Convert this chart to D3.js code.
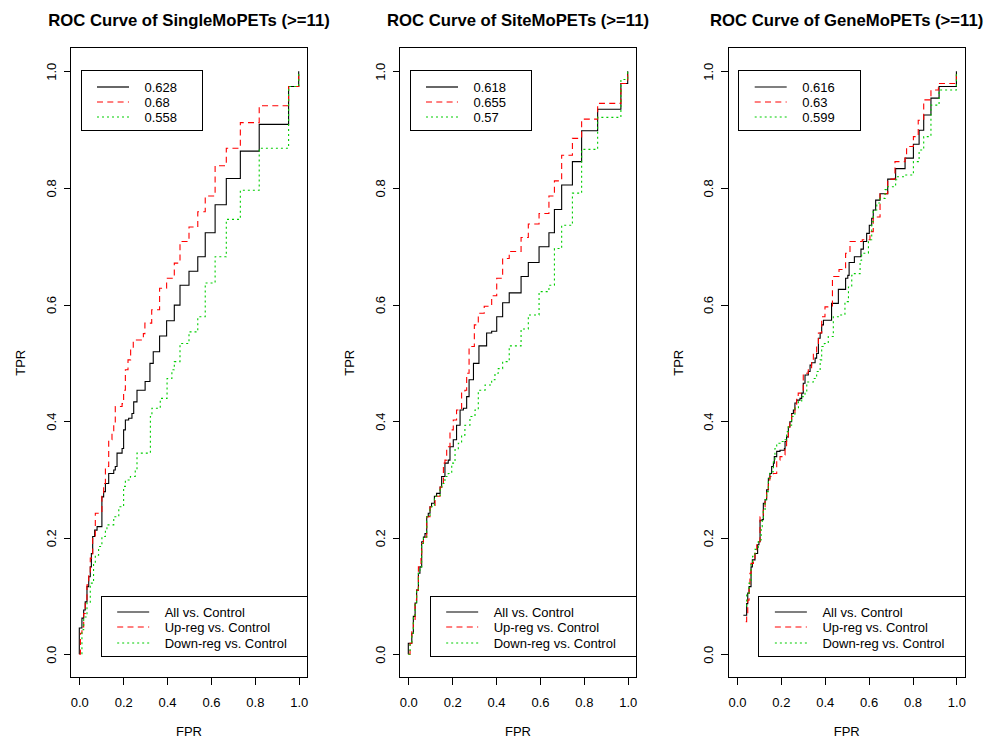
<!DOCTYPE html>
<html>
<head>
<meta charset="utf-8">
<script src="https://cdn.jsdelivr.net/npm/d3@7"></script>
<style>
  html, body { margin: 0; padding: 0; background: #ffffff; }
  svg { display: block; font-family: "Liberation Sans", Arial, Helvetica, sans-serif; }
</style>
</head>
<body>
<svg id="chart" width="991" height="742"></svg>
<script>
// ---- data -------------------------------------------------------------
const panelTitles = [
  "ROC Curve of SingleMoPETs (>=11)",
  "ROC Curve of SiteMoPETs (>=11)",
  "ROC Curve of GeneMoPETs (>=11)"
];
const seriesNames = ["All vs. Control", "Up-reg vs. Control", "Down-reg vs. Control"];
const axisTicks = [0, 0.2, 0.4, 0.6, 0.8, 1.0];
const xLabel = "FPR";
const yLabel = "TPR";

// AUC values shown in the upper legend of each panel
const singleAuc = ["0.628", "0.68", "0.558"];
const siteAuc   = ["0.618", "0.655", "0.57"];
const geneAuc   = ["0.616", "0.63", "0.599"];

// ROC operating points [FPR, TPR]; each point is where the curve reaches a new TPR level
const singleAll = [[0,0],[0,0.045],[0.012,0.062],[0.020,0.076],[0.027,0.090],[0.035,0.116],[0.043,0.133],[0.050,0.150],[0.055,0.173],[0.061,0.202],[0.070,0.213],[0.081,0.219],[0.103,0.270],[0.111,0.279],[0.119,0.293],[0.134,0.310],[0.157,0.316],[0.164,0.322],[0.172,0.345],[0.195,0.353],[0.202,0.385],[0.210,0.402],[0.225,0.405],[0.240,0.413],[0.248,0.433],[0.263,0.453],[0.300,0.468],[0.322,0.499],[0.337,0.519],[0.366,0.546],[0.398,0.572],[0.433,0.599],[0.459,0.633],[0.500,0.657],[0.540,0.682],[0.574,0.723],[0.619,0.771],[0.670,0.816],[0.734,0.863],[0.820,0.909],[0.954,0.974],[1,1]];
const singleUp = [[0,0],[0.005,0.036],[0.012,0.047],[0.020,0.070],[0.027,0.093],[0.035,0.119],[0.043,0.139],[0.050,0.165],[0.061,0.202],[0.073,0.242],[0.096,0.245],[0.103,0.276],[0.111,0.293],[0.119,0.322],[0.134,0.368],[0.149,0.379],[0.157,0.396],[0.164,0.425],[0.195,0.430],[0.202,0.453],[0.210,0.488],[0.222,0.505],[0.234,0.522],[0.246,0.539],[0.292,0.550],[0.299,0.568],[0.330,0.591],[0.366,0.628],[0.398,0.645],[0.433,0.671],[0.459,0.708],[0.500,0.733],[0.540,0.759],[0.574,0.786],[0.619,0.838],[0.670,0.868],[0.734,0.912],[0.820,0.941],[0.954,0.974],[1,1]];
const singleDown = [[0.012,0],[0.012,0.042],[0.020,0.064],[0.035,0.088],[0.050,0.122],[0.065,0.156],[0.073,0.170],[0.088,0.185],[0.103,0.202],[0.119,0.213],[0.126,0.222],[0.157,0.236],[0.180,0.253],[0.202,0.288],[0.210,0.299],[0.233,0.305],[0.255,0.316],[0.263,0.345],[0.324,0.408],[0.331,0.422],[0.369,0.439],[0.400,0.473],[0.422,0.488],[0.433,0.502],[0.459,0.533],[0.500,0.553],[0.540,0.579],[0.574,0.637],[0.619,0.682],[0.670,0.746],[0.734,0.796],[0.820,0.868],[0.954,0.974],[1,1]];

const siteAll = [[0,0],[0,0.019],[0.016,0.036],[0.023,0.065],[0.031,0.088],[0.038,0.110],[0.046,0.139],[0.053,0.150],[0.061,0.193],[0.069,0.201],[0.076,0.207],[0.084,0.236],[0.091,0.242],[0.099,0.253],[0.106,0.259],[0.119,0.271],[0.129,0.276],[0.145,0.287],[0.152,0.305],[0.167,0.328],[0.182,0.333],[0.190,0.356],[0.205,0.368],[0.220,0.393],[0.236,0.419],[0.251,0.422],[0.266,0.442],[0.277,0.471],[0.297,0.499],[0.322,0.529],[0.357,0.551],[0.380,0.554],[0.403,0.579],[0.430,0.603],[0.460,0.620],[0.514,0.648],[0.547,0.672],[0.596,0.699],[0.641,0.723],[0.666,0.763],[0.699,0.805],[0.748,0.845],[0.790,0.898],[0.863,0.935],[0.969,0.979],[1,1]];
const siteUp = [[0,0],[0.008,0.019],[0.016,0.042],[0.023,0.059],[0.031,0.093],[0.038,0.110],[0.046,0.150],[0.058,0.167],[0.061,0.190],[0.069,0.201],[0.084,0.236],[0.099,0.253],[0.122,0.271],[0.145,0.287],[0.160,0.328],[0.167,0.333],[0.175,0.356],[0.190,0.385],[0.205,0.402],[0.220,0.419],[0.243,0.448],[0.258,0.453],[0.266,0.482],[0.277,0.528],[0.301,0.565],[0.319,0.585],[0.346,0.597],[0.380,0.615],[0.403,0.645],[0.430,0.679],[0.460,0.691],[0.514,0.715],[0.547,0.738],[0.596,0.756],[0.641,0.786],[0.666,0.812],[0.699,0.856],[0.748,0.885],[0.790,0.918],[0.863,0.945],[0.969,0.979],[1,1]];
const siteDown = [[0,0],[0.008,0.019],[0.016,0.036],[0.023,0.065],[0.031,0.088],[0.038,0.110],[0.046,0.139],[0.053,0.150],[0.061,0.190],[0.069,0.201],[0.084,0.236],[0.099,0.253],[0.119,0.271],[0.145,0.287],[0.152,0.293],[0.167,0.305],[0.182,0.310],[0.198,0.328],[0.213,0.351],[0.228,0.362],[0.243,0.376],[0.258,0.393],[0.281,0.408],[0.304,0.419],[0.319,0.453],[0.350,0.462],[0.380,0.471],[0.395,0.482],[0.410,0.490],[0.430,0.502],[0.460,0.529],[0.514,0.558],[0.547,0.582],[0.596,0.622],[0.641,0.633],[0.666,0.696],[0.699,0.736],[0.748,0.791],[0.790,0.866],[0.863,0.921],[0.969,0.986],[1,1]];

const geneAll = [[0.029,0.067],[0.044,0.087],[0.049,0.105],[0.055,0.116],[0.064,0.150],[0.070,0.162],[0.082,0.173],[0.094,0.188],[0.100,0.193],[0.105,0.230],[0.115,0.231],[0.120,0.259],[0.128,0.265],[0.135,0.282],[0.143,0.302],[0.150,0.310],[0.158,0.322],[0.166,0.328],[0.170,0.339],[0.181,0.348],[0.196,0.350],[0.216,0.353],[0.219,0.365],[0.226,0.373],[0.234,0.390],[0.241,0.399],[0.249,0.413],[0.257,0.419],[0.264,0.431],[0.272,0.436],[0.287,0.439],[0.295,0.448],[0.302,0.465],[0.310,0.479],[0.325,0.485],[0.333,0.496],[0.340,0.500],[0.356,0.508],[0.363,0.516],[0.371,0.542],[0.379,0.551],[0.386,0.565],[0.394,0.573],[0.431,0.602],[0.462,0.626],[0.495,0.645],[0.505,0.650],[0.511,0.672],[0.535,0.682],[0.565,0.695],[0.576,0.708],[0.591,0.722],[0.603,0.736],[0.614,0.748],[0.621,0.762],[0.632,0.779],[0.652,0.790],[0.687,0.815],[0.723,0.833],[0.766,0.851],[0.804,0.875],[0.830,0.899],[0.851,0.925],[0.884,0.954],[0.921,0.974],[1,1]];
const geneUp = [[0.040,0.056],[0.044,0.070],[0.049,0.093],[0.055,0.116],[0.059,0.139],[0.064,0.156],[0.075,0.162],[0.082,0.176],[0.090,0.188],[0.097,0.193],[0.105,0.236],[0.120,0.253],[0.128,0.265],[0.135,0.282],[0.143,0.299],[0.150,0.305],[0.166,0.310],[0.181,0.333],[0.196,0.339],[0.211,0.342],[0.219,0.351],[0.226,0.371],[0.234,0.390],[0.241,0.399],[0.249,0.413],[0.264,0.425],[0.272,0.442],[0.279,0.448],[0.295,0.453],[0.302,0.479],[0.317,0.482],[0.325,0.490],[0.340,0.502],[0.348,0.516],[0.363,0.530],[0.371,0.551],[0.386,0.579],[0.401,0.596],[0.435,0.648],[0.465,0.660],[0.495,0.688],[0.515,0.708],[0.571,0.711],[0.606,0.725],[0.621,0.750],[0.652,0.790],[0.687,0.815],[0.720,0.845],[0.766,0.851],[0.773,0.871],[0.804,0.888],[0.826,0.916],[0.851,0.951],[0.884,0.968],[0.918,0.979],[1,1]];
const geneDown = [[0.044,0.082],[0.044,0.105],[0.055,0.122],[0.064,0.156],[0.071,0.168],[0.082,0.180],[0.097,0.196],[0.110,0.219],[0.115,0.230],[0.120,0.245],[0.128,0.265],[0.135,0.279],[0.143,0.302],[0.150,0.313],[0.166,0.333],[0.173,0.353],[0.181,0.362],[0.196,0.365],[0.219,0.368],[0.226,0.382],[0.234,0.393],[0.249,0.408],[0.264,0.422],[0.280,0.433],[0.295,0.442],[0.310,0.450],[0.318,0.467],[0.348,0.473],[0.363,0.485],[0.379,0.505],[0.386,0.528],[0.398,0.533],[0.416,0.545],[0.439,0.579],[0.462,0.582],[0.492,0.605],[0.508,0.630],[0.523,0.650],[0.535,0.653],[0.561,0.676],[0.568,0.688],[0.599,0.711],[0.614,0.742],[0.621,0.762],[0.637,0.774],[0.652,0.782],[0.675,0.797],[0.687,0.802],[0.723,0.814],[0.728,0.819],[0.766,0.822],[0.804,0.845],[0.830,0.865],[0.851,0.888],[0.884,0.942],[0.921,0.968],[1,1]];

// ---- styling ------------------------------------------------------------
const seriesColors = ["#000000", "#FF0000", "#00CD00"];
const seriesDash = [null, "6,4.3", "2,3"];

const panels = [
  { title: panelTitles[0], curves: [singleAll, singleUp, singleDown], auc: singleAuc, dx: 0 },
  { title: panelTitles[1], curves: [siteAll, siteUp, siteDown], auc: siteAuc, dx: 329 },
  { title: panelTitles[2], curves: [geneAll, geneUp, geneDown], auc: geneAuc, dx: 657.7 }
];

const svg = d3.select("#chart");
svg.append("rect").attr("width", 991).attr("height", 742).attr("fill", "#ffffff");

const pad = 0.04;        // usual 4% range extension on both axes
const tickLen = 7;

panels.forEach(p => {
  const x = d3.scaleLinear().domain([0, 1]).range([79.3 + p.dx, 298.7 + p.dx]);
  const y = d3.scaleLinear().domain([0, 1]).range([654.3, 71.3]);

  const left = x(-pad), right = x(1 + pad), top = y(1 + pad), bottom = y(-pad);
  const g = svg.append("g");

  // ROC curves
  const line = d3.line()
    .x(d => x(d[0]))
    .y(d => y(d[1]))
    .curve(d3.curveStepAfter);

  p.curves.forEach((pts, i) => {
    g.append("path")
      .datum(pts)
      .attr("d", line)
      .attr("fill", "none")
      .attr("stroke", seriesColors[i])
      .attr("stroke-width", 1.1)
      .attr("stroke-dasharray", seriesDash[i]);
  });

  // plot frame
  g.append("rect")
    .attr("x", left).attr("y", top)
    .attr("width", right - left).attr("height", bottom - top)
    .attr("fill", "none").attr("stroke", "#000").attr("stroke-width", 1)
    .attr("shape-rendering", "crispEdges");

  // x axis
  const xAxis = d3.axisBottom(x).tickValues(axisTicks).tickFormat(d3.format(".1f"))
    .tickSizeInner(tickLen).tickSizeOuter(0).tickPadding(13);
  const xg = g.append("g").attr("transform", `translate(0,${bottom})`).call(xAxis);
  xg.select(".domain").remove();
  xg.selectAll("line").attr("shape-rendering", "crispEdges");
  xg.selectAll("text")
    .attr("font-family", "Liberation Sans, Arial, sans-serif")
    .attr("font-size", 13).attr("fill", "#000")
    .attr("dy", null).attr("y", 707.3 - bottom);

  // y axis
  const yAxis = d3.axisLeft(y).tickValues(axisTicks).tickFormat(d3.format(".1f"))
    .tickSizeInner(tickLen).tickSizeOuter(0);
  const yg = g.append("g").attr("transform", `translate(${left},0)`).call(yAxis);
  yg.select(".domain").remove();
  yg.selectAll("line").attr("shape-rendering", "crispEdges");
  yg.selectAll("text")
    .attr("font-family", "Liberation Sans, Arial, sans-serif")
    .attr("font-size", 13).attr("fill", "#000")
    .attr("x", null).attr("dy", null)
    .attr("text-anchor", "middle")
    .attr("transform", `translate(${55.5 + p.dx - left},0) rotate(-90)`);

  // title and axis names
  g.append("text")
    .attr("x", (left + right) / 2).attr("y", 26)
    .attr("text-anchor", "middle")
    .attr("font-size", 16.7).attr("font-weight", "bold")
    .text(p.title);
  g.append("text")
    .attr("x", (left + right) / 2).attr("y", 736)
    .attr("text-anchor", "middle").attr("font-size", 13)
    .text(xLabel);
  g.append("text")
    .attr("transform", `translate(${25 + p.dx},${(top + bottom) / 2}) rotate(-90)`)
    .attr("text-anchor", "middle").attr("font-size", 13)
    .text(yLabel);

  // legend helper
  function legend(bx, by, bw, labels) {
    const lg = g.append("g");
    lg.append("rect")
      .attr("x", bx).attr("y", by).attr("width", bw).attr("height", 60)
      .attr("fill", "#ffffff").attr("stroke", "#000").attr("stroke-width", 1)
      .attr("shape-rendering", "crispEdges");
    const rows = [16, 31.3, 46.6];
    labels.forEach((lab, i) => {
      const cy = Math.round(by + rows[i]);
      lg.append("line")
        .attr("x1", bx + 16).attr("x2", bx + 48)
        .attr("y1", cy).attr("y2", cy)
        .attr("stroke", seriesColors[i]).attr("stroke-width", 1.2)
        .attr("stroke-dasharray", seriesDash[i]);
      lg.append("text")
        .attr("x", bx + 63.5).attr("y", cy + 4.7)
        .attr("font-size", 13)
        .text(lab);
    });
  }

  // AUC legend (top left) and series legend (bottom right)
  legend(x(0) + 1.7, y(1) - 0.5, 121.3, p.auc);
  legend(right - 206.3, y(0) - 58.3, 206.3, seriesNames);
});
</script>
</body>
</html>
